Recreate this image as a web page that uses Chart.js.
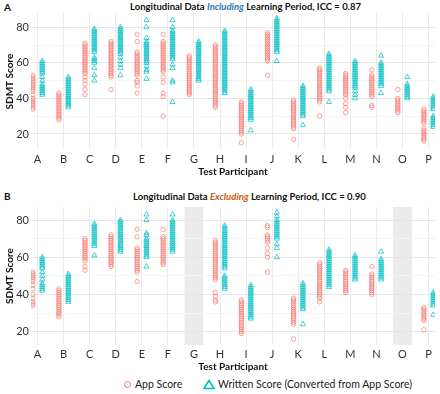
<!DOCTYPE html>
<html lang="en">
<head>
<meta charset="UTF-8">
<title>SDMT longitudinal</title>
<script src="https://cdn.jsdelivr.net/npm/chart.js@4"></script>
<style>
  body { margin: 0; width: 440px; height: 394px; background: #fff; position: relative; overflow: hidden; font-family: Lato, "Open Sans", sans-serif; color: #111; }
  canvas { position: absolute; left: 0; }
  #chartA { top: 0; }
  #chartB { top: 190px; }
  .tag { position: absolute; font-weight: bold; font-size: 10px; }
  .titulo { position: absolute; font-weight: bold; font-size: 9.5px; white-space: nowrap; }
  .titulo i.incl { color: #2e75b6; }
  .titulo i.excl { color: #c55a11; }
  .leg { position: absolute; font-size: 10.5px; white-space: nowrap; color: #222; }
  .circ { position: absolute; width: 5px; height: 5px; border: 1.8px solid #f8766d; border-radius: 50%; }
</style>
</head>
<body>

<div class="tag" style="left:4px; top:1px;">A</div>
<div class="titulo" style="left:130px; top:1px;">Longitudinal Data <i class="incl">Including</i> Learning Period, ICC = 0.87</div>
<canvas id="chartA" width="440" height="182"></canvas>

<div class="tag" style="left:4px; top:190px;">B</div>
<div class="titulo" style="left:133px; top:191px;">Longitudinal Data <i class="excl">Excluding</i> Learning Period, ICC = 0.90</div>
<canvas id="chartB" width="440" height="185"></canvas>

<div class="circ" style="left:124px; top:380.5px;"></div>
<div class="leg" style="left:135px; top:378px;">App Score</div>
<svg style="position:absolute; left:203px; top:379px;" width="12" height="11">
  <polygon points="6,1.5 11,9.5 1,9.5" fill="none" stroke="#00bfc4" stroke-width="1.6"/>
</svg>
<div class="leg" style="left:218px; top:378px;">Written Score (Converted from App Score)</div>

<script>
// participantes
const participantes = ['A','B','C','D','E','F','G','H','I','J','K','L','M','N','O','P'];
const yTicks = [20, 30, 40, 50, 60, 70, 80];

// painel A - incluindo periodo de aprendizado
const appIncluindo = [
  [53,52,51,50,49,48,47,46,45,44,42,40,39,38,37,36,35,34],
  [43,42,41,40,39,38,37,36,35,34,33,32,31,30,29,28],
  [71,70,69,68,67,66,65,64,63,62,61,60,59,58,57,56,55,54,52,50,48,45,42],
  [72,71,70,69,68,67,66,65,64,63,62,61,60,59,58,57,56,55,54,53,52,45],
  [76,72,66,65,64,63,62,61,60,59,58,57,56,55,54,53,50,49,47,43],
  [76,72,71,70,69,68,67,66,65,64,63,62,61,60,59,58,57,56,55,52,49,43,41,30],
  [64,63,62,61,60,59,58,57,56,55,54,53,52,51,50,49,48,47,46,45,44,43,42],
  [70,69,68,67,66,65,64,63,62,61,60,59,58,57,56,55,54,53,52,51,50,49,48,47,46,45,44,43,42,41,40,39,38,37,36,35],
  [38,37,36,35,34,33,32,31,30,29,28,27,26,25,24,23,22,21,20,15],
  [77,76,75,74,73,72,71,70,69,68,67,66,65,64,63,62,61,53],
  [39,38,37,36,35,34,33,32,31,30,29,28,27,26,25,24,23,17],
  [57,56,55,54,53,52,51,50,49,48,47,46,45,44,43,42,41,40,39,38,30],
  [54,53,52,51,50,49,48,47,46,45,44,43,42,40,37,35,32],
  [56,53,52,51,50,49,48,47,46,45,44,43,42,41,36,35],
  [45,40,39,38,37,36,35,34,33,32],
  [34,33,32,31,30,29,28,27,26,23,22,21,20,19,18,17,16]
];
const escritoIncluindo = [
  [61,60,59,58,57,56,55,54,52,50,48,47,46,45,44,43,42],
  [52,51,50,49,48,47,46,45,44,43,42,41,40,39,38,37,36,35],
  [79,78,77,76,75,74,73,72,71,70,69,68,67,66,63,62,61,60,57,53,50],
  [80,79,78,77,76,75,74,73,72,71,70,69,68,67,66,65,63,61,59,57,53],
  [84,80,74,72,71,70,69,68,67,66,65,64,63,62,61,60,58,56,55,51],
  [84,80,78,77,76,75,74,73,72,71,70,69,68,67,66,65,64,63,62,59,57,50,49,38],
  [72,71,70,69,68,67,66,65,64,63,62,61,60,59,58,57,56,55,54,53,52,51,50],
  [78,77,76,75,74,73,72,71,70,69,68,67,66,65,64,63,62,61,60,59,58,57,56,55,54,53,52,51,50,49,48,47,46,45,44,43],
  [45,44,43,42,41,40,39,38,37,36,35,34,33,32,31,30,29,28,22],
  [85,84,83,82,81,80,79,78,77,76,75,74,73,72,71,70,69,68,67,66,61],
  [47,46,45,44,43,42,41,40,39,38,37,36,35,34,33,32,31,30,25],
  [65,64,63,62,61,60,59,58,57,56,55,54,53,52,51,50,49,48,47,46,45,44,38],
  [61,60,59,58,57,56,55,54,53,52,51,50,49,48,47,46,44,42,40],
  [64,60,59,58,57,56,55,54,53,52,51,50,49,48,47,43],
  [52,48,47,46,45,44,43,42,41,40],
  [41,40,39,38,37,36,35,34,30,29,28,27,26,25,24]
];

// painel B - excluindo periodo de aprendizado (G e O sem dados)
const appExcluindo = [
  [52,51,50,49,48,47,45,43,40,38,36,35,34],
  [43,42,41,40,39,38,37,36,35,34,33,32,31,30,29,28],
  [70,69,68,67,66,65,64,63,62,61,60,59,58,55,53],
  [72,71,70,69,68,67,66,65,64,63,62,61,60,59,58,57,56,55],
  [75,71,65,64,63,62,61,60,59,58,57,56,55,54,53,52,47],
  [75,71,70,69,68,67,66,65,64,63,62,61,60,59,58,57,56],
  [],
  [69,68,67,66,65,64,63,62,61,60,59,58,57,56,55,54,53,52,51,50,49,48,41,39,37,36],
  [37,36,35,34,33,32,31,30,29,28,27,26,25,24,23,22,21,20,19],
  [77,76,72,71,70,69,68,65,62,60,52],
  [38,37,36,35,34,33,32,31,30,29,28,27,26,25,24,16],
  [57,56,55,54,53,52,51,50,49,48,47,46,45,44,43,42,41,40,39,38,36],
  [53,52,51,50,49,48,47,46,45,44,43,42,41],
  [55,51,50,49,48,47,46,45,44,43,42,41,40],
  [],
  [33,32,31,30,29,28,27,26,21]
];
const escritoExcluindo = [
  [60,59,58,57,56,55,54,52,50,48,46,45,44,43,42],
  [51,50,49,48,47,46,45,44,43,42,41,40,39,38,37,36],
  [78,77,76,75,74,73,72,71,70,69,68,67,66,61],
  [80,79,78,77,76,75,74,73,72,71,70,69,68,67,66,65,64,63],
  [83,80,73,72,70,69,68,67,66,65,64,63,62,61,60,55],
  [83,80,79,78,77,76,75,74,73,72,71,70,69,68,67,66,65,64,63],
  [],
  [77,76,75,74,73,72,71,70,69,68,67,66,65,64,63,62,61,60,59,58,57,56,55,54,50,49,48,47,46,45,44,43],
  [45,44,43,42,41,40,39,38,37,36,35,34,33,32,31,30,29,28,27],
  [84,82,80,79,78,77,76,75,74,73,72,71,70,67,65,60],
  [46,45,44,43,42,41,40,39,38,37,36,35,34,33,32,24],
  [64,63,62,61,60,59,58,57,56,55,54,53,52,51,50,49,48,47,46,45,44],
  [61,60,59,58,57,56,55,54,53,52,51,50,49,48],
  [63,59,58,57,56,55,54,53,52,51,50,49,48],
  [],
  [41,40,39,38,37,36,35,34,29]
];

const corApp = 'rgba(248,118,109,0.75)';
const corEscrito = 'rgba(0,191,196,0.8)';
const deslocamento = 0.18;

function pontos(valores, desvio) {
  const out = [];
  valores.forEach(function (lista, i) {
    lista.forEach(function (v) { out.push({ x: i + desvio, y: v }); });
  });
  return out;
}

// faixa cinza para participantes sem dados
const sombra = {
  id: 'sombra',
  beforeDraw(chart, args, opts) {
    const idx = opts.indices || [];
    if (!idx.length) return;
    const { ctx, chartArea, scales: { x } } = chart;
    ctx.save();
    ctx.fillStyle = '#ebebeb';
    idx.forEach(function (i) {
      const l = x.getPixelForValue(i - 0.36), r = x.getPixelForValue(i + 0.36);
      ctx.fillRect(l, chartArea.top, r - l, chartArea.bottom - chartArea.top);
    });
    ctx.restore();
  }
};

function criarPainel(id, app, escrito, cfg) {
  const vazios = [];
  app.forEach(function (l, i) { if (!l.length && !escrito[i].length) vazios.push(i); });

  return new Chart(document.getElementById(id), {
    type: 'scatter',
    data: {
      datasets: [
        {
          label: 'App Score',
          data: pontos(app, -deslocamento),
          pointStyle: 'circle',
          pointRadius: 2.2,
          borderWidth: 0.9,
          borderColor: corApp,
          backgroundColor: 'rgba(0,0,0,0)'
        },
        {
          label: 'Written Score (Converted from App Score)',
          data: pontos(escrito, deslocamento),
          pointStyle: 'triangle',
          pointRadius: 3,
          borderWidth: 0.9,
          borderColor: corEscrito,
          backgroundColor: 'rgba(0,0,0,0)'
        }
      ]
    },
    options: {
      responsive: false,
      animation: false,
      devicePixelRatio: 1,
      layout: { padding: { top: cfg.topo, left: 0, right: 2, bottom: 0 } },
      plugins: {
        legend: { display: false },
        tooltip: { enabled: false },
        sombra: { indices: vazios }
      },
      scales: {
        x: {
          type: 'linear',
          min: -0.25,
          max: 15.25,
          afterFit: function (s) { s.height = cfg.alturaX; },
          afterBuildTicks: function (s) { s.ticks = participantes.map(function (p, i) { return { value: i }; }); },
          ticks: {
            padding: 3,
            color: '#333',
            font: { family: 'Lato', size: 11 },
            callback: function (v) { return participantes[v] || ''; }
          },
          grid: { color: '#ebebeb', lineWidth: 1, drawTicks: false },
          border: { display: false },
          title: {
            display: true,
            text: 'Test Participant',
            color: '#111',
            font: { family: 'Lato', size: 10, weight: 'bold' },
            padding: { top: 0, bottom: cfg.tituloBaixo }
          }
        },
        y: {
          min: cfg.yMin,
          max: cfg.yMax,
          afterFit: function (s) { s.width = 31; },
          afterBuildTicks: function (s) { s.ticks = yTicks.map(function (v) { return { value: v }; }); },
          ticks: {
            padding: 2,
            color: '#333',
            font: { family: 'Lato', size: 11 },
            callback: function (v) { return v % 20 === 0 ? v : ''; }
          },
          grid: {
            color: function (c) { return c.tick && c.tick.value % 20 === 0 ? '#e6e6e6' : '#f4f4f4'; },
            lineWidth: 1,
            drawTicks: false
          },
          border: { display: false },
          title: {
            display: true,
            text: 'SDMT Score',
            color: '#111',
            font: { family: 'Lato', size: 10, weight: 'bold' },
            padding: { top: 4, bottom: 0 }
          }
        }
      }
    },
    plugins: [sombra]
  });
}

criarPainel('chartA', appIncluindo, escritoIncluindo, { topo: 13, alturaX: 32, tituloBaixo: 4, yMin: 11, yMax: 88 });
criarPainel('chartB', appExcluindo, escritoExcluindo, { topo: 17, alturaX: 30, tituloBaixo: 2, yMin: 12.8, yMax: 87 });
</script>
</body>
</html>
